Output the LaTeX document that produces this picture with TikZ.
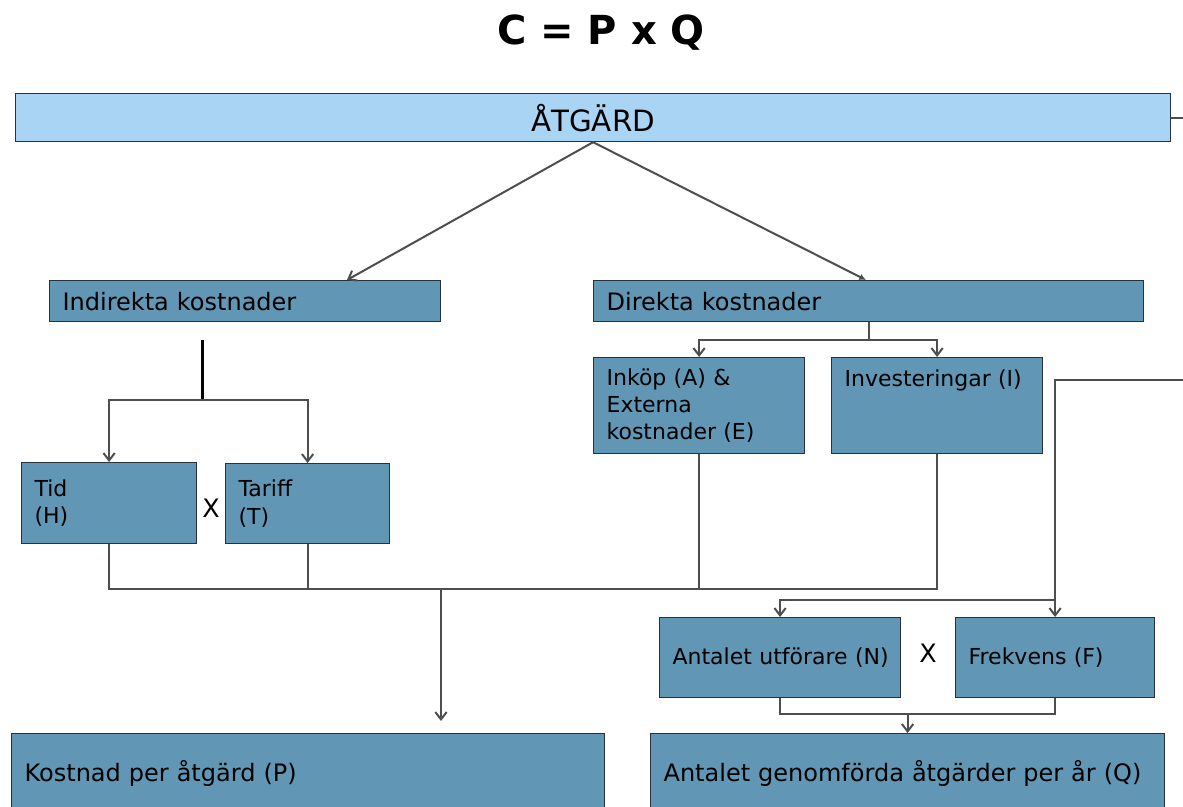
\documentclass[tikz,border=0pt]{standalone}
\usepackage{fontspec}
\setmainfont{DejaVu Sans}
\usepackage{tikz}
\usetikzlibrary{arrows.meta,calc}

\definecolor{lightblue}{RGB}{169,212,244}
\definecolor{steelbox}{RGB}{97,150,181}
\definecolor{boxedge}{RGB}{38,50,60}
\definecolor{linegrey}{RGB}{78,78,78}

\begin{document}
\begin{tikzpicture}[x=0.75pt,y=0.75pt,yscale=-1,xscale=1,
	box/.style={draw=boxedge, line width=0.9pt, fill=steelbox, anchor=north west, inner xsep=9.75pt, inner ysep=0pt, align=left, font=\fontsize{16.5}{20.6}\selectfont},
	conn/.style={draw=linegrey, line width=1.5pt},
	tip/.style={-{Straight Barb[length=5.5pt,width=8.5pt]}}]
				\useasboundingbox (0,0) rectangle (1183,807);
				
				% Text Node
				\node [font=\fontsize{30}{36}\selectfont\bfseries] (title) at (601,33) {C = P x Q};
				
				%Shape: Rectangle [atgard]
				\node [box, fill=lightblue, align=center, minimum width=866.25pt, minimum height=36pt, font=\fontsize{22}{26}\selectfont] (atgard) at (15,93) {ÅTGÄRD};
				%Shape: Rectangle [indir]
				\node [box, minimum width=293.25pt, minimum height=30.75pt, text width=273.75pt, font=\fontsize{18}{22}\selectfont] (indir) at (49,280) {Indirekta kostnader};
				%Shape: Rectangle [dir]
				\node [box, minimum width=412.5pt, minimum height=30.75pt, text width=393pt, font=\fontsize{18}{22}\selectfont] (dir) at (593,280) {Direkta kostnader};
				%Shape: Rectangle [inkop]
				\node [box, minimum width=158.25pt, minimum height=72pt, text width=138.75pt] (inkop) at (593,357) {Inköp (A) \&\\Externa\\kostnader (E)};
				%Shape: Rectangle [invest]
				\node [box, minimum width=158.25pt, minimum height=72pt, text width=138.75pt, text height=21.75pt, text depth=50.25pt] (invest) at (831,357) {Investeringar (I)};
				%Shape: Rectangle [tid]
				\node [box, minimum width=131.25pt, minimum height=60.75pt, text width=111.75pt] (tid) at (21,462) {Tid\\(H)};
				%Shape: Rectangle [tariff]
				\node [box, minimum width=123pt, minimum height=60pt, text width=103.5pt] (tariff) at (225,463) {Tariff\\(T)};
				%Shape: Rectangle [utf]
				\node [box, minimum width=180.75pt, minimum height=60pt, text width=161.25pt] (utf) at (659,617) {\mbox{Antalet utförare (N)}};
				%Shape: Rectangle [frek]
				\node [box, minimum width=149.25pt, minimum height=60pt, text width=129.75pt] (frek) at (955,617) {Frekvens (F)};
				%Shape: Rectangle [kost]
				\node [box, minimum width=444.75pt, minimum height=60pt, text width=425.25pt, font=\fontsize{18}{22}\selectfont] (kost) at (11,733) {Kostnad per åtgärd (P)};
				%Shape: Rectangle [antal]
				\node [box, minimum width=385.5pt, minimum height=60pt, text width=366pt, font=\fontsize{18}{22}\selectfont] (antal) at (650,733) {Antalet genomförda åtgärder per år (Q)};
				
				% Text Node
				\node [font=\fontsize{19}{22}\selectfont] (x1) at (211,508) {X};
				% Text Node
				\node [font=\fontsize{19}{22}\selectfont] (x2) at (928,653) {X};
				
				%Straight Lines
				\draw [conn] (atgard.east) -- ++(13,0);
				\draw [conn, tip] (atgard.south) -- ($(indir.north west)+(298,0)$);
				\draw [conn, -{Latex[length=5pt,width=5pt]}] (atgard.south) -- ($(dir.north west)+(273,0)$);
				
				\draw [conn, tip] (dir.south) -- ++(0,18) -| (inkop.north);
				\draw [conn, tip] (dir.south) -- ++(0,18) -| (invest.north);
				
				\coordinate (isplit) at ($(indir.south)+(-42.5,78)$);
				\draw [line width=1.8pt, black] ($(indir.south)+(-42.5,18)$) -- (isplit);
				\draw [conn, tip] (isplit) -| (tid.north);
				\draw [conn, tip] (isplit) -| (tariff.north);
				
				\coordinate (pjoin) at (441,589);
				\draw [conn] (tid.south) |- (pjoin);
				\draw [conn] (tariff.south) -- (tariff.south |- pjoin);
				\draw [conn] (inkop.south) |- (pjoin);
				\draw [conn] (invest.south) |- (pjoin);
				\draw [conn, tip, shorten >=9pt] (pjoin) -- (pjoin |- kost.north);
				
				\coordinate (qin) at (1183,380);
				\coordinate (qsplit) at ($(frek.north)+(0,-17)$);
				\draw [conn] (qin) -| (qsplit);
				\draw [conn, tip] (qsplit) -- (frek.north);
				\draw [conn, tip] (qsplit) -| (utf.north);
				
				\coordinate (qjoin) at ($(utf.south)+(0,16)$);
				\draw [conn] (utf.south) -- (qjoin) -| (frek.south);
				\draw [conn, tip] (qjoin -| antal.north) -- (antal.north);
				
\end{tikzpicture}
\end{document}
